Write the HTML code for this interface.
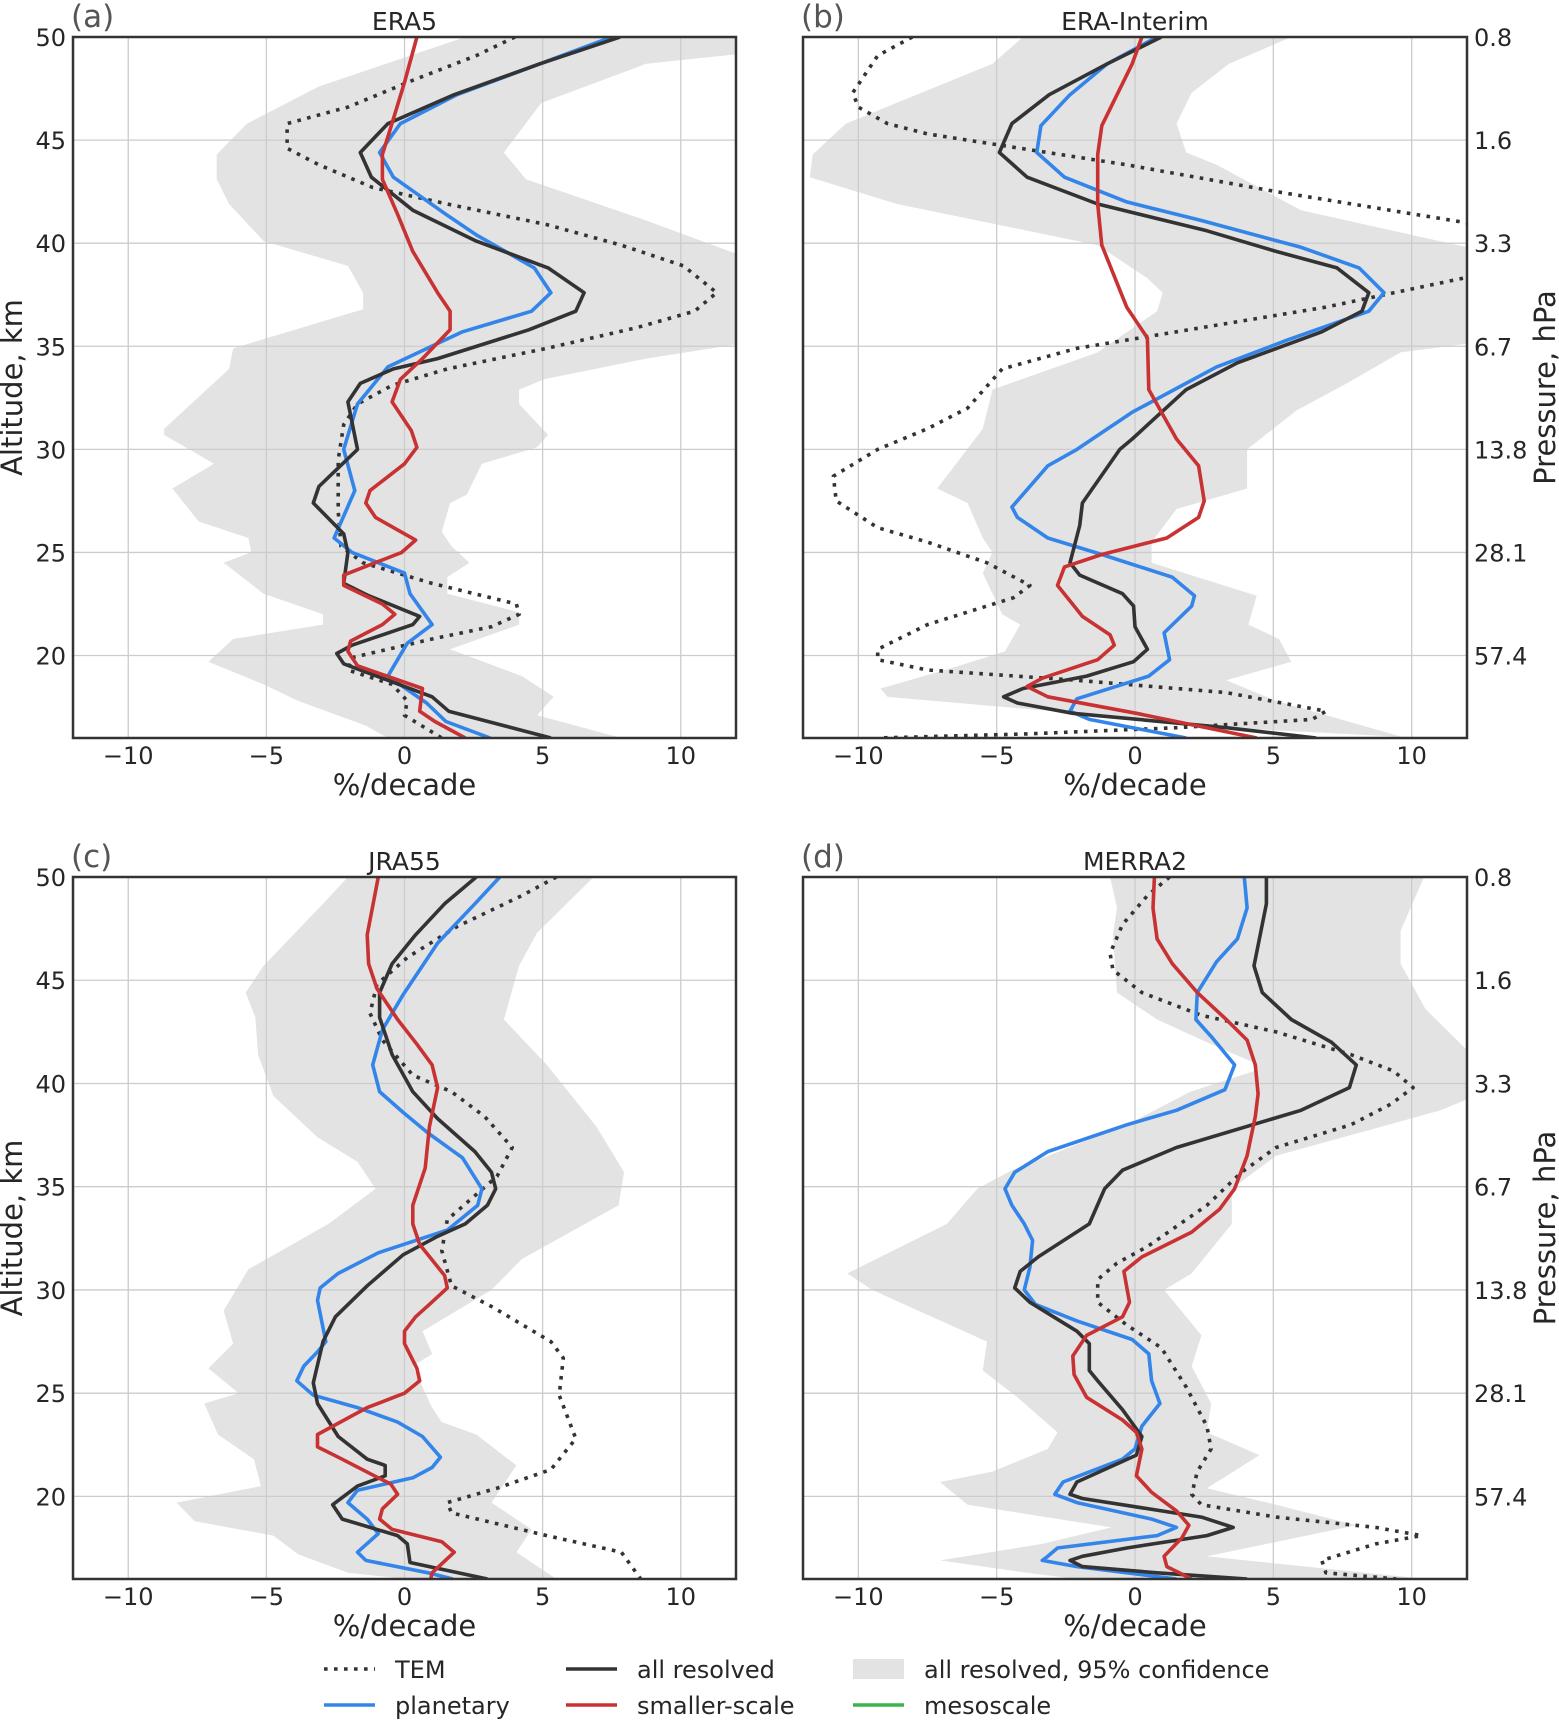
<!DOCTYPE html>
<html><head><meta charset="utf-8"><style>
html,body{margin:0;padding:0;background:#fff;}
svg{display:block;font-family:"DejaVu Sans","Liberation Sans",sans-serif;}
</style></head><body>
<svg id="fig" width="1559" height="1720" viewBox="0 0 1559 1720" xmlns="http://www.w3.org/2000/svg"></svg>
<script>
// ---------- Panel (a) ERA5 ----------
const aAllAlt=[50,48.7,47.2,45.8,44.4,43.2,41.6,40.1,38.8,37.6,36.7,35.8,34.4,33.9,33.2,32.3,30.0,28.2,27.4,25.9,25.0,23.5,22.9,21.9,21.5,20.5,20.1,19.6,18.0,17.3,16.0];
const aAll=[7.8,4.9,1.8,-0.6,-1.6,-1.2,0.3,2.6,5.2,6.5,6.2,4.5,1.2,-0.4,-1.6,-2.05,-1.7,-3.1,-3.3,-2.2,-2.05,-2.2,-1.3,0.55,0.3,-1.9,-2.45,-2.2,1.0,1.6,5.3];
const aPlAlt=[50,48.7,47.2,45.8,44.4,43.2,41.4,40.4,38.8,37.6,36.7,35.7,34.0,32.2,30.0,28.0,25.7,25.0,24.0,23.0,21.5,20.6,19.0,17.7,16.8,16.0];
const aPl=[7.5,4.9,1.9,-0.15,-0.9,-0.4,1.5,2.6,4.7,5.3,4.6,2.1,-0.6,-1.7,-2.2,-1.8,-2.55,-1.9,0.0,0.2,1.0,0.1,-0.6,0.8,1.5,3.1];
const aSmAlt=[50,47.8,45.6,44.3,43.1,41.4,39.6,37.6,36.7,35.8,34.4,33.4,32.3,30.9,30.1,29.3,28.0,27.4,26.7,25.6,25.0,23.9,23.4,22.5,22.0,21.5,20.7,20.2,19.5,18.4,17.9,17.3,16.8,16.0];
const aSm=[0.45,0.0,-0.5,-0.8,-0.8,-0.25,0.3,1.2,1.65,1.65,0.65,-0.15,-0.45,0.25,0.45,0.0,-1.25,-1.4,-1.05,0.4,-0.1,-2.2,-2.2,-0.8,-0.35,-0.8,-1.95,-2.05,-1.7,0.65,0.6,0.55,1.1,2.2];
const aTemAlt=[50,49.1,47.9,46.6,45.8,44.6,43.8,42.7,41.9,40.9,39.9,38.9,37.6,36.7,35.9,34.9,33.9,33.1,32.2,31.2,29.5,27.0,25.3,24.5,23.5,22.5,22.0,21.4,20.8,19.9,19.3,18.6,17.8,17.1,16.0];
const aTem=[4.0,2.6,0.3,-2.05,-4.25,-4.25,-3.1,-1.15,1.55,5.15,7.85,10.1,11.3,10.5,8.4,5.15,1.55,-0.45,-1.7,-2.2,-2.4,-2.4,-2.3,-1.5,1.0,4.05,4.15,3.15,1.0,-1.9,-2.05,-0.45,0.1,0.0,1.35];
const aLoAlt=[50,47.6,45.8,44.3,43.1,41.9,40.1,38.9,37.6,36.8,34.9,33.9,31.0,30.7,29.3,28.1,26.5,25.7,25.0,24.5,23.0,22.0,21.5,20.8,19.7,18.6,17.8,16.6,16.0];
const aLo=[2.2,-3.1,-5.7,-6.8,-6.8,-6.35,-5.1,-2.05,-1.5,-1.5,-6.2,-6.35,-8.7,-8.7,-6.9,-8.4,-7.45,-5.65,-5.55,-6.55,-5.1,-2.95,-2.95,-6.2,-7.1,-5.1,-3.85,-1.4,-0.6];
const aHiAlt=[50,49.3,48.7,46.8,44.4,43.1,41.1,39.0,35.3,34.4,33.4,32.9,32.2,30.7,30.1,29.3,27.8,27.4,26.0,25.3,24.5,23.8,23.0,22.1,21.5,20.3,19.0,18.0,17.1,16.0];
const aHi=[13,13,8.75,4.95,3.6,4.4,8.75,13,13,8.75,5.05,4.15,4.15,5.2,4.8,2.8,2.25,1.65,1.35,1.7,2.35,1.55,1.55,4.15,4.15,1.65,4.25,5.4,4.8,7.85];

// ---------- Panel (b) ERA-Interim ----------
const bAllAlt=[50,48.7,47.2,45.8,44.4,43.2,41.9,40.6,39.6,38.8,37.6,36.7,35.7,34.2,32.9,30.5,30.0,27.4,26.3,24.5,23.9,23.0,22.4,21.4,20.3,19.7,19.0,18.4,18.0,17.7,17.2,16.5,16.0];
const bAll=[0.95,-1.0,-3.1,-4.45,-4.9,-3.9,-1.35,2.6,5.1,7.3,8.45,8.2,6.75,3.7,1.85,-0.1,-0.55,-1.9,-2.0,-2.35,-2.0,-0.45,-0.05,0.0,0.45,-0.05,-1.75,-4.05,-4.75,-4.25,-2.25,3.3,6.55];
const bPlAlt=[50,48.7,47.2,45.7,44.4,43.2,42.0,41.1,39.8,38.8,37.6,36.7,35.3,34.0,31.8,30.0,29.2,27.2,26.7,25.7,24.9,23.8,22.9,22.4,21.1,19.8,19.0,17.9,17.3,16.9,16.0];
const bPl=[0.8,-1.0,-2.35,-3.4,-3.55,-2.55,-0.3,2.4,6.0,8.1,9.0,8.45,5.5,2.95,-0.1,-2.1,-3.15,-4.45,-4.25,-3.15,-1.2,1.35,2.15,2.05,1.05,1.25,0.5,-2.1,-2.35,-1.65,1.85];
const bSmAlt=[50,48.7,45.7,44.3,41.9,39.9,36.9,35.4,32.9,30.5,29.2,27.5,26.7,25.7,24.9,24.3,23.4,21.9,21.0,20.5,19.8,18.9,18.5,18.0,17.2,16.0];
const bSm=[0.25,-0.1,-1.2,-1.35,-1.35,-1.2,-0.3,0.45,0.5,1.5,2.3,2.5,2.3,1.15,-1.2,-2.55,-2.8,-1.9,-0.9,-0.75,-1.35,-3.35,-3.9,-3.15,0.05,4.4];
const bTemAlt=[50,49.1,47.3,46.6,45.8,45.3,43.8,42.5,41.0,39.8,38.4,36.9,35.7,34.9,33.9,32.0,31.0,30.0,28.7,27.5,26.2,25.5,24.5,23.4,22.8,21.5,20.3,19.8,19.3,18.8,18.2,17.3,16.9,16.5,16.2,16.0];
const bTem=[-8.05,-9.3,-10.2,-10.0,-8.95,-7.5,-0.3,5.1,11.95,15.0,12.2,6.9,1.5,-2.1,-4.8,-6.05,-7.5,-9.3,-10.9,-10.8,-9.3,-7.5,-5.35,-3.8,-4.4,-7.5,-9.3,-9.3,-7.5,-2.1,3.3,6.9,6.4,1.5,-3.9,-9.3];
const bLoAlt=[50,48.7,45.8,44.3,43.2,41.9,39.9,38.3,37.6,36.7,34.7,32.9,31.0,28.1,27.4,25.7,25.0,24.0,22.0,21.5,20.2,19.4,18.4,18.0,17.2,16.5,16.0];
const bLo=[-4.05,-5.15,-10.45,-11.65,-11.75,-8.6,-1.35,0.45,1.0,0.8,-1.35,-5.15,-5.5,-7.15,-6.05,-5.5,-5.15,-5.5,-4.8,-4.15,-4.7,-6.6,-9.2,-8.95,-2.1,3.3,10.5];
const bHiAlt=[50,48.7,47.3,45.8,44.4,43.8,41.6,39.5,35.3,34.7,33.2,31.9,30.0,28.1,27.1,25.5,24.5,22.9,21.5,20.8,19.7,18.8,17.8,16.0];
const bHi=[5.65,3.4,2.05,1.5,1.85,2.95,6.0,13,13,9.6,7.65,5.85,4.05,4.05,1.5,0.6,0.6,4.4,4.1,5.2,5.65,3.3,5.1,9.8];

// ---------- Panel (c) JRA55 ----------
const cAllAlt=[50,48.7,47.2,45.8,44.4,43.2,41.4,39.6,38.3,36.7,35.7,34.9,34.1,33.2,32.6,31.7,30.2,28.7,27.5,25.5,24.5,22.9,21.8,21.5,21.0,20.5,19.6,18.9,18.1,17.7,16.8,16.0];
const cAll=[2.6,1.45,0.4,-0.45,-0.9,-0.9,-0.45,0.3,1.2,2.55,3.15,3.3,3.0,2.2,1.2,-0.05,-1.35,-2.5,-2.95,-3.3,-3.15,-2.4,-1.35,-0.7,-0.7,-1.7,-2.6,-2.25,-0.25,0.1,0.2,3.0];
const cPlAlt=[50,48.7,46.8,44.3,42.6,40.9,39.6,38.6,37.6,36.4,34.9,34.1,32.9,31.8,30.8,30.1,29.5,27.5,27.0,26.3,25.6,24.9,24.3,23.6,22.9,21.9,21.4,20.9,20.3,19.7,18.9,18.2,17.3,16.9,16.3,16.0];
const cPl=[3.45,2.55,1.2,-0.05,-0.8,-1.15,-0.9,-0.05,0.85,2.1,2.8,2.65,1.55,-0.95,-2.4,-3.05,-3.15,-2.85,-3.15,-3.65,-3.9,-3.3,-1.7,-0.25,0.65,1.3,1.0,0.3,-1.7,-2.05,-1.35,-0.95,-1.7,-1.4,0.85,1.75];
const cSmAlt=[50,47.2,45.8,44.6,43.1,41.9,40.9,39.8,37.9,35.9,34.1,33.2,32.2,30.7,30.1,29.3,28.7,28.0,27.4,26.2,25.6,25.0,24.3,23.0,22.4,21.9,20.9,20.6,20.1,19.4,18.9,18.4,17.8,17.3,16.3,16.0];
const cSm=[-0.95,-1.35,-1.3,-1.0,-0.25,0.45,1.0,1.2,0.9,0.75,0.3,0.3,0.55,1.45,1.55,0.9,0.4,0.0,0.0,0.45,0.55,0.0,-1.35,-3.15,-3.15,-2.4,-0.95,-0.5,-0.25,-0.8,-0.9,-0.45,1.35,1.8,1.0,0.95];
const cTemAlt=[50,49.1,47.6,46.1,44.8,43.4,42.1,40.4,39.6,38.4,36.9,35.5,33.4,31.9,30.2,29.2,27.5,26.7,24.9,22.8,21.3,20.4,19.7,19.2,18.1,17.3,16.0];
const cTem=[5.5,4.25,1.9,0.1,-1.0,-1.25,-0.8,0.3,1.7,2.9,3.9,3.35,1.55,1.35,1.7,3.15,5.3,5.75,5.6,6.2,5.3,3.35,1.55,1.7,5.15,7.85,8.55];
const cLoAlt=[50,48.7,45.7,44.4,43.2,41.4,39.4,37.4,36.2,34.9,33.2,31.0,29.0,27.4,26.2,25.0,24.5,23.0,21.8,20.5,19.7,18.8,18.1,17.2,16.3,16.0];
const cLo=[-2.05,-2.95,-5.1,-5.75,-5.4,-5.3,-4.75,-3.15,-1.7,-1.05,-2.75,-5.65,-6.55,-6.2,-7.1,-6.0,-7.25,-6.75,-5.45,-5.2,-8.25,-7.6,-4.75,-3.85,-2.05,0.1];
const cHiAlt=[50,47.3,45.7,43.1,40.9,37.9,35.7,34.1,31.5,30.0,28.0,26.9,26.3,24.3,23.6,23.0,21.5,19.7,18.4,17.3,16.0];
const cHi=[6.85,4.8,4.15,3.6,5.15,6.95,7.95,7.75,4.25,3.15,0.65,1.0,0.3,1.0,1.35,2.6,4.05,3.15,4.6,4.05,5.5];

// ---------- Panel (d) MERRA2 ----------
const dAllAlt=[50,48.7,45.7,44.4,43.1,42.0,40.9,39.8,38.7,36.9,35.8,34.9,33.2,31.6,30.9,30.1,29.4,28.0,27.4,26.1,25.6,24.2,22.9,22.0,20.7,20.1,19.9,19.0,18.5,18.1,17.5,17.1,16.9,16.6,16.3,16.0];
const dAll=[4.75,4.75,4.3,4.6,5.65,7.1,8.0,7.75,6.0,1.5,-0.45,-1.1,-1.65,-3.5,-4.15,-4.35,-3.8,-2.1,-1.65,-1.65,-1.35,-0.45,0.25,0.05,-2.1,-2.35,-1.9,2.4,3.55,2.6,-0.3,-1.9,-2.35,-1.9,0.8,4.05];
const dPlAlt=[50,48.5,47.0,45.9,44.4,43.1,42.2,40.9,39.7,38.7,38.0,36.7,35.7,34.9,34.1,33.2,32.4,31.1,30.0,29.3,28.5,27.6,26.9,25.6,24.5,23.4,22.3,21.8,20.7,20.1,19.7,18.9,18.5,18.1,17.5,17.1,16.9,16.6,16.0];
const dPl=[3.95,4.05,3.7,2.95,2.25,2.2,2.8,3.6,3.25,1.5,-0.3,-3.15,-4.35,-4.7,-4.45,-4.0,-3.7,-3.8,-4.0,-3.6,-2.1,-0.1,0.5,0.6,0.9,0.25,0.0,-0.45,-2.6,-2.9,-2.1,0.6,1.5,0.8,-2.8,-3.15,-3.35,-2.1,1.5];
const dSmAlt=[50,48.5,47.0,45.8,44.4,43.1,42.1,40.9,39.5,38.4,36.5,34.9,33.9,32.8,31.6,30.9,29.4,28.7,27.8,26.8,25.9,24.8,23.7,23.1,22.3,21.0,20.2,19.3,18.6,18.0,17.1,16.6,16.0];
const dSm=[0.7,0.65,0.8,1.35,2.25,3.3,4.05,4.35,4.45,4.35,4.05,3.6,3.05,2.05,0.25,-0.4,-0.2,-0.45,-1.75,-2.25,-2.2,-1.75,-0.45,0.05,0.25,0.05,0.6,1.5,1.95,1.7,1.05,1.15,2.05];
const dTemAlt=[50,49.1,47.7,46.3,45.5,44.4,43.3,42.5,41.4,40.6,39.8,39.0,38.0,36.9,35.7,34.1,32.1,31.3,30.5,29.4,28.3,27.2,25.3,23.4,22.3,21.2,20.1,19.6,19.0,18.5,18.1,17.7,16.9,16.3,16.0];
const dTem=[1.25,0.45,-0.45,-0.9,-0.8,0.25,2.4,5.1,7.8,9.35,10.05,9.25,7.8,5.1,3.85,2.6,0.45,-0.65,-1.35,-1.35,-0.3,0.95,1.85,2.6,2.75,2.25,2.05,2.4,5.1,8.7,10.35,8.7,6.75,6.9,9.45];
const dLoAlt=[50,48.5,47.2,44.4,43.1,42.0,41.0,40.6,39.6,38.0,35.8,34.9,33.2,30.8,30.0,27.5,26.1,24.8,23.1,22.3,21.2,20.7,19.6,18.5,17.7,16.9,16.3,16.0];
const dLo=[-0.9,-0.65,-0.8,-0.65,0.8,2.6,4.3,4.3,2.0,-0.3,-4.45,-5.7,-6.8,-10.4,-9.5,-5.35,-5.5,-4.25,-2.8,-3.15,-5.15,-7.05,-6.05,-0.85,-3.35,-7.05,-3.9,-2.1];
const dHiAlt=[50,47.4,45.8,43.6,40.3,39.8,38.7,36.5,34.9,33.2,30.8,30.0,27.8,26.3,24.5,23.1,22.0,20.4,19.6,18.6,17.1,16.0];
const dHi=[10.45,9.6,9.6,10.5,13,13,11.05,5.1,3.5,3.5,2.05,1.05,2.4,2.05,2.75,2.6,4.5,2.6,5.1,8.0,2.6,10.5];

// tick arrays
const xTicks=[-10,-5,0,5,10];
const xTickLabels=["\u221210","\u22125","0","5","10"];
const yTicks=[20,25,30,35,40,45,50];
const pTickLabels=["57.4","28.1","13.8","6.7","3.3","1.6","0.8"];

const NS="http://www.w3.org/2000/svg";
const svg=document.getElementById('fig');
function mk(tag,attrs,parent){const e=document.createElementNS(NS,tag);for(const k in attrs)e.setAttribute(k,attrs[k]);(parent||svg).appendChild(e);return e;}
const COL={all:"#333333",pl:"#3385ea",sm:"#c83232",tem:"#333333",band:"#e3e3e3"};

function panel(id,box,title,letter,right,left,D){
  const g=mk('g',{});
  
  
  const sx=v=>box.x0+(v+12)/24*(box.x1-box.x0);
  const sy=a=>box.y1-(a-16)/34*(box.y1-box.y0);
  const cp=mk('clipPath',{id:'clip-'+id},g);
  mk('rect',{x:box.x0,y:box.y0,width:box.x1-box.x0,height:box.y1-box.y0},cp);
  let pts=[];
  D.loAlt.forEach((a,i)=>pts.push(sx(D.lo[i]).toFixed(1)+','+sy(a).toFixed(1)));
  for(let i=D.hiAlt.length-1;i>=0;i--)pts.push(sx(D.hi[i]).toFixed(1)+','+sy(D.hiAlt[i]).toFixed(1));
  const band=mk('polygon',{points:pts.join(' '),fill:COL.band,'clip-path':'url(#clip-'+id+')'},g);
  
  
  xTicks.forEach(t=>{const l=mk('line',{x1:sx(t),x2:sx(t),y1:box.y0,y2:box.y1,stroke:'#cccccc','stroke-width':1.3},g);
    
    });
  yTicks.forEach(t=>{const l=mk('line',{x1:box.x0,x2:box.x1,y1:sy(t),y2:sy(t),stroke:'#cccccc','stroke-width':1.3},g);
    
    });
  function line(alt,val,color,name,dash){
    const p=mk('polyline',{points:alt.map((a,i)=>sx(val[i]).toFixed(1)+','+sy(a).toFixed(1)).join(' '),fill:'none',stroke:color,'stroke-width':3.6,'stroke-linejoin':'round','clip-path':'url(#clip-'+id+')'},g);
    if(dash)p.setAttribute('stroke-dasharray',dash);
    
    
  }
  line(D.temAlt,D.tem,COL.tem,'tem','3.6,6.4');
  line(D.plAlt,D.pl,COL.pl,'planetary');
  line(D.allAlt,D.all,COL.all,'all-resolved');
  line(D.smAlt,D.sm,COL.sm,'smaller-scale');
  const fr=mk('rect',{x:box.x0,y:box.y0,width:box.x1-box.x0,height:box.y1-box.y0,fill:'none',stroke:'#333','stroke-width':2.5},g);
  
  
  xTicks.forEach((t,i)=>{const tx=mk('text',{x:sx(t),y:box.y1+26,'font-size':24,fill:'#262626','text-anchor':'middle'},g);
    tx.textContent=xTickLabels[i];
    
    });
  const xl=mk('text',{x:(box.x0+box.x1)/2,y:box.y1+57,'font-size':29,fill:'#262626','text-anchor':'middle'},g);
  xl.textContent='%/decade';
  
  
  if(left){
    yTicks.forEach(t=>{const tx=mk('text',{x:box.x0-7,y:sy(t)+9,'font-size':24,fill:'#262626','text-anchor':'end'},g);
      tx.textContent=String(t);
      
      });
    const cy=(box.y0+box.y1)/2;
    const yl=mk('text',{x:22,y:cy,'font-size':29,fill:'#262626','text-anchor':'middle',transform:'rotate(-90 22 '+cy+')'},g);
    yl.textContent='Altitude, km';
    
    
  }
  if(right){
    yTicks.forEach((t,i)=>{const tx=mk('text',{x:box.x1+7,y:sy(t)+9,'font-size':24,fill:'#262626','text-anchor':'start'},g);
      tx.textContent=pTickLabels[i];
      
      });
    const cy=(box.y0+box.y1)/2;
    const yl=mk('text',{x:1555,y:cy,'font-size':29,fill:'#262626','text-anchor':'middle',transform:'rotate(-90 1555 '+cy+')'},g);
    yl.textContent='Pressure, hPa';
    
    
  }
  const tt=mk('text',{x:(box.x0+box.x1)/2,y:box.y0-7,'font-size':25,fill:'#262626','text-anchor':'middle'},g);
  tt.textContent=title;
  
  
  const pl=mk('text',{x:box.x0-2,y:box.y0-10,'font-size':31,fill:'#555555','text-anchor':'start'},g);
  pl.textContent='('+letter+')';
  
  
}
const A={x0:73,x1:736},B={x0:803,x1:1467};
const TOP={y0:37,y1:738},BOT={y0:877,y1:1579};
panel('a',{...A,...TOP},'ERA5','a',false,true,{allAlt:aAllAlt,all:aAll,plAlt:aPlAlt,pl:aPl,smAlt:aSmAlt,sm:aSm,temAlt:aTemAlt,tem:aTem,loAlt:aLoAlt,lo:aLo,hiAlt:aHiAlt,hi:aHi});
panel('b',{...B,...TOP},'ERA-Interim','b',true,false,{allAlt:bAllAlt,all:bAll,plAlt:bPlAlt,pl:bPl,smAlt:bSmAlt,sm:bSm,temAlt:bTemAlt,tem:bTem,loAlt:bLoAlt,lo:bLo,hiAlt:bHiAlt,hi:bHi});
panel('c',{...A,...BOT},'JRA55','c',false,true,{allAlt:cAllAlt,all:cAll,plAlt:cPlAlt,pl:cPl,smAlt:cSmAlt,sm:cSm,temAlt:cTemAlt,tem:cTem,loAlt:cLoAlt,lo:cLo,hiAlt:cHiAlt,hi:cHi});
panel('d',{...B,...BOT},'MERRA2','d',true,false,{allAlt:dAllAlt,all:dAll,plAlt:dPlAlt,pl:dPl,smAlt:dSmAlt,sm:dSm,temAlt:dTemAlt,tem:dTem,loAlt:dLoAlt,lo:dLo,hiAlt:dHiAlt,hi:dHi});

const lg=mk('g',{});


function entry(x,y,label,kind,color,name){
  const e=mk('g',{},lg);
  
  
  if(kind==='patch'){mk('rect',{x:x,y:y-10,width:51,height:20,fill:COL.band},e);}
  else{const l=mk('line',{x1:x,x2:x+51,y1:y,y2:y,stroke:color,'stroke-width':3.6},e);
    if(kind==='dot')l.setAttribute('stroke-dasharray','3.6,6.4');}
  const t=mk('text',{x:x+71,y:y+9,'font-size':24,fill:'#262626'},e);
  t.textContent=label;
}
entry(324,1669,'TEM','dot','#333','tem');
entry(566,1669,'all resolved','line','#333','all-resolved');
entry(853,1669,'all resolved, 95% confidence','patch','','confidence');
entry(324,1705,'planetary','line',COL.pl,'planetary');
entry(566,1705,'smaller-scale','line',COL.sm,'smaller-scale');
entry(853,1705,'mesoscale','line','#3cb44b','mesoscale');
</script>
</body></html>
